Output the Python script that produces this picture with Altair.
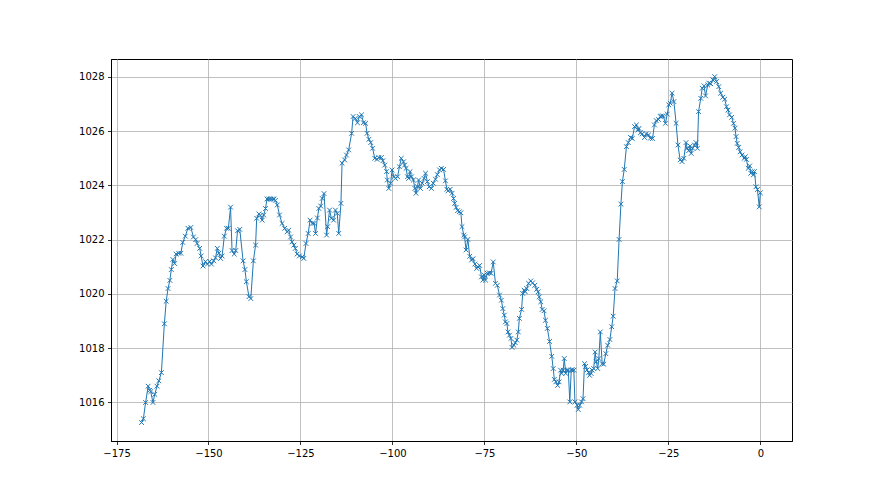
import altair as alt
import pandas as pd

# Hours relative to now
hours = [
    -168.2, -167.7, -167.1, -166.4, -166.0, -165.7, -165.1, -164.6, -164.0, -163.5,
    -162.8, -162.0, -161.5, -161.0, -160.5, -160.1, -159.7, -159.2, -158.8, -158.1,
    -157.5, -157.0, -156.3, -155.6, -154.8, -154.1,
    -153.5, -153.1, -152.4, -152.0, -151.5, -150.8, -150.3, -149.7, -149.2, -148.6,
    -148.1, -147.6, -147.2, -146.7, -146.3, -145.7, -145.1, -144.6, -144.0, -143.6,
    -143.0, -142.6, -142.1, -141.5, -140.6, -140.1, -139.7, -139.0, -138.5, -137.8,
    -137.2, -136.9,
    -136.3, -135.9, -135.4, -135.0, -134.5, -134.1, -133.6, -133.1, -132.6, -132.2,
    -131.8, -131.3, -130.7, -130.0, -129.3, -128.6, -128.2, -127.7, -127.3, -126.8,
    -126.4, -125.9, -125.3, -124.5, -124.1, -123.5, -122.9, -122.4, -121.8, -121.3,
    -120.9, -120.4,
    -120.0, -119.5, -119.1, -118.6, -117.9, -117.6, -117.1, -116.6, -116.0, -115.5,
    -115.0, -114.6, -114.0, -113.7, -113.0, -112.5, -111.9, -111.1, -110.7, -110.1,
    -109.5, -109.0, -108.4, -107.9, -107.3, -106.9, -106.4, -105.9, -105.4, -104.8,
    -104.2, -103.7,
    -103.0, -102.6, -102.1, -101.6, -101.4, -101.0, -100.5, -100.1, -99.6, -99.2,
    -98.6, -98.1, -97.6, -97.0, -96.7, -96.3, -95.9, -95.6, -95.2, -94.8,
    -94.3, -93.9, -93.6, -93.2, -92.9, -92.4, -91.9, -91.4, -91.0, -90.5,
    -90.0, -89.4, -88.9, -88.3, -87.8, -87.2,
    -86.7, -86.1, -85.6, -85.2, -84.9, -84.3, -83.8, -83.4, -83.1, -82.7,
    -82.3, -81.8, -81.4, -81.1, -80.6, -80.4, -80.0, -79.5, -79.0, -78.5,
    -78.1, -77.6, -77.1, -76.8, -76.3, -75.8, -75.4, -75.1, -74.7, -74.2,
    -73.7, -73.2, -72.6, -72.0,
    -71.5, -70.9, -70.4, -70.0, -69.6, -69.3, -68.9, -68.6, -68.2, -67.8,
    -67.5, -67.0, -66.6, -66.2, -65.8, -65.5, -64.9, -64.6, -64.2, -63.9,
    -63.5, -63.0, -62.4, -61.9, -61.3, -60.8, -60.4, -60.1, -59.7, -59.3,
    -58.8, -58.4, -57.9, -57.3, -56.7, -56.3, -56.0, -55.6, -55.1, -54.7,
    -54.3, -54.0, -53.6, -53.3, -52.9, -52.5, -52.2, -51.8, -51.4, -51.1,
    -50.7, -50.4, -49.8, -49.5, -49.1, -48.6, -48.2, -47.8, -47.5, -47.1,
    -46.7, -46.4, -46.0, -45.7, -45.3, -44.9, -44.6, -44.2, -43.9, -43.5,
    -43.0, -42.6, -42.0, -41.5, -40.9, -40.4, -40.0, -39.5, -38.9, -38.4,
    -37.9, -37.5, -37.0, -36.4, -35.9, -35.3, -34.8, -34.2, -33.7, -33.3,
    -33.0, -32.6, -32.1, -31.5, -31.0, -30.4, -29.9, -29.3, -28.8, -28.3,
    -27.7, -27.2,
    -26.9, -26.4, -25.8, -25.3, -24.9, -24.5, -24.0, -23.5, -22.9, -22.4,
    -21.8, -21.3, -20.8, -20.2, -19.9, -19.5, -19.1, -18.8, -18.4, -17.9,
    -17.5, -17.1, -16.8, -16.2, -15.8, -15.3, -14.9, -14.3, -14.0, -13.5,
    -12.9, -12.4, -11.9, -11.3,
    -10.8, -10.2, -9.7, -9.2, -8.8, -8.4, -7.8, -7.3, -6.9, -6.6,
    -6.3, -5.9, -5.5, -5.0, -4.4, -4.1, -3.8, -3.3, -2.9, -2.6,
    -2.2, -1.9, -1.6, -1.2, -0.8, -0.3, 0.0,
]

pressure = [
    1015.26, 1015.4, 1016.0, 1016.6, 1016.45, 1016.4, 1016.0, 1016.3, 1016.6, 1016.8,
    1017.1, 1018.9, 1019.73, 1020.2, 1020.5, 1020.9, 1021.27, 1021.12, 1021.47, 1021.5,
    1021.5, 1021.9, 1022.13, 1022.42, 1022.45, 1022.1,
    1022.0, 1021.86, 1021.68, 1021.4, 1021.03, 1021.19, 1021.1, 1021.2, 1021.1, 1021.22,
    1021.33, 1021.68, 1021.5, 1021.31, 1021.4, 1022.13, 1022.42, 1022.42, 1023.2, 1021.6,
    1021.47, 1021.6, 1022.33, 1022.38, 1021.22, 1020.9, 1020.45, 1019.9, 1019.83, 1021.22,
    1021.8, 1022.79,
    1022.95, 1022.9, 1022.72, 1022.91, 1023.15, 1023.5, 1023.5, 1023.5, 1023.5, 1023.5,
    1023.45, 1023.28, 1022.91, 1022.6, 1022.42, 1022.29, 1022.35, 1022.1, 1021.92, 1021.8,
    1021.68, 1021.47, 1021.4, 1021.37, 1021.31, 1021.86, 1022.23, 1022.72, 1022.6, 1022.6,
    1022.23, 1022.8,
    1023.15, 1023.24, 1023.52, 1023.7, 1022.17, 1022.48, 1023.09, 1022.79, 1022.72, 1023.09,
    1022.97, 1022.23, 1023.34, 1024.82, 1024.94, 1025.12, 1025.31, 1025.92, 1026.54, 1026.47,
    1026.31, 1026.54, 1026.6, 1026.31, 1026.29, 1025.92, 1025.7, 1025.58, 1025.37, 1025.0,
    1024.96, 1025.03,
    1025.03, 1024.91, 1024.75, 1024.51, 1024.2, 1023.89, 1024.08, 1024.57, 1024.32, 1024.26,
    1024.32, 1024.69, 1025.0, 1024.87, 1024.75, 1024.63, 1024.32, 1024.26, 1024.51, 1024.32,
    1024.2, 1023.89, 1023.71, 1023.95, 1024.2, 1023.89, 1024.08, 1024.26, 1024.45, 1024.14,
    1023.95, 1023.89, 1024.08, 1024.23, 1024.4, 1024.57,
    1024.63, 1024.59, 1024.17, 1023.86, 1023.8, 1023.86, 1023.71, 1023.52, 1023.34, 1023.19,
    1023.07, 1023.03, 1022.99, 1022.48, 1022.17, 1022.1, 1021.62, 1022.01, 1021.39, 1021.25,
    1021.3, 1021.1, 1020.94, 1021.0, 1021.05, 1020.63, 1020.51, 1020.7, 1020.51, 1020.76,
    1020.78, 1020.76, 1021.18, 1020.39,
    1020.32, 1019.96, 1019.77, 1019.46, 1019.22, 1018.97, 1018.91, 1018.6, 1018.48, 1018.36,
    1018.03, 1018.11, 1018.2, 1018.3, 1018.6, 1019.1, 1019.43, 1020.02, 1020.14, 1020.08,
    1020.2, 1020.39, 1020.48, 1020.41, 1020.32, 1020.17, 1020.08, 1019.89, 1019.71, 1019.43,
    1019.38, 1019.03, 1018.73, 1018.25, 1017.7, 1017.25, 1016.85, 1016.76, 1016.63, 1016.76,
    1017.19, 1017.07, 1017.19, 1017.62, 1017.07, 1017.19, 1017.2, 1016.02, 1017.2, 1017.2,
    1017.19, 1016.02, 1015.9, 1015.74, 1015.9, 1016.02, 1016.14, 1017.43, 1017.33, 1017.2,
    1017.1, 1017.0, 1017.07, 1017.19, 1017.25, 1017.86, 1017.5, 1017.25, 1017.62, 1018.6,
    1017.43, 1017.41, 1017.8, 1018.11, 1018.32, 1018.79, 1019.18, 1020.2, 1020.48, 1022.01,
    1023.31, 1024.14, 1024.59, 1025.43, 1025.58, 1025.77, 1025.73, 1026.17, 1026.23, 1026.04,
    1026.1, 1025.94, 1025.9, 1025.77, 1025.9, 1025.86, 1025.74, 1025.73, 1026.23, 1026.39,
    1026.43, 1026.54,
    1026.56, 1026.56, 1026.29, 1026.63, 1026.97, 1027.03, 1027.4, 1027.09, 1026.29, 1025.49,
    1024.94, 1024.88, 1025.0, 1025.58, 1025.37, 1025.28, 1025.45, 1025.18, 1025.37, 1025.49,
    1025.58, 1025.37, 1026.72, 1027.21, 1027.58, 1027.67, 1027.3, 1027.7, 1027.77, 1027.75,
    1027.89, 1028.01, 1027.83, 1027.64,
    1027.4, 1027.25, 1027.18, 1026.9, 1026.78, 1026.6, 1026.51, 1026.29, 1026.11, 1025.8,
    1025.55, 1025.4, 1025.24, 1025.12, 1025.0, 1025.06, 1024.96, 1024.63, 1024.72, 1024.45,
    1024.51, 1024.39, 1024.51, 1023.95, 1023.85, 1023.21, 1023.73,
]

x_ticks = [-175, -150, -125, -100, -75, -50, -25, 0]
y_ticks = [1016, 1018, 1020, 1022, 1024, 1026, 1028]

df = pd.DataFrame({"x": hours, "y": pressure})

BLUE = "#1f77b4"
minus_expr = "replace(datum.label, '-', '\u2212')"

x_enc = alt.X(
    "x:Q",
    scale=alt.Scale(domain=[-176.5, 8.6], nice=False, zero=False),
    axis=alt.Axis(values=x_ticks, title=None, format="d", labelExpr=minus_expr),
)
y_enc = alt.Y(
    "y:Q",
    scale=alt.Scale(domain=[1014.58, 1028.66], nice=False, zero=False),
    axis=alt.Axis(values=y_ticks, title=None, format="d"),
)

base = alt.Chart(df).encode(x=x_enc, y=y_enc)

line = base.mark_line(color=BLUE, strokeWidth=1.0)
points = base.mark_point(
    shape="M-1,-1L1,1M-1,1L1,-1",
    filled=False,
    color=BLUE,
    strokeWidth=1.0,
    size=22,
    opacity=1,
)

chart = (
    alt.layer(line, points)
    .properties(
        width=681,
        height=382,
        autosize="none",
        padding={"left": 103, "top": 51, "right": 80, "bottom": 46},
        background="white",
    )
    .configure_view(stroke="black", strokeWidth=1)
    .configure_axis(
        grid=True,
        gridColor="#b0b0b0",
        gridWidth=0.8,
        domainColor="black",
        domainWidth=1,
        tickColor="black",
        tickSize=3.5,
        tickWidth=0.8,
        labelColor="black",
        labelFont="DejaVu Sans",
        labelFontSize=10,
        labelPadding=3.5,
    )
)

chart.save("out.html", embed_options={"renderer": "svg", "actions": False})
